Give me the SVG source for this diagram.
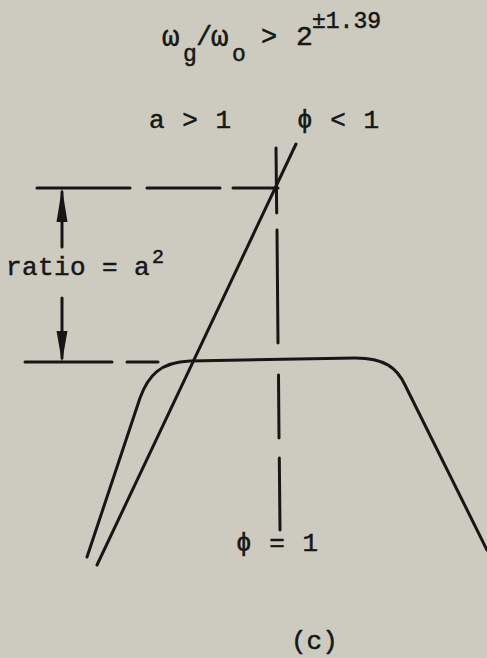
<svg xmlns="http://www.w3.org/2000/svg" width="487" height="658" viewBox="0 0 487 658">
<style>
.ink{stroke:#161616;stroke-width:3;fill:none;stroke-linecap:round;stroke-linejoin:round}
.t{font-family:"Liberation Mono","DejaVu Sans Mono",monospace;fill:#161616;stroke:#161616;stroke-width:0.5}
</style>
<rect width="487" height="658" fill="#cdcbbf"/>
<g id="title">
<text class="t" font-size="29" x="162" y="46">ω</text>
<text class="t" font-size="23" x="183" y="61">g</text>
<text class="t" font-size="27" x="196" y="45">/</text>
<text class="t" font-size="29" x="211" y="46">ω</text>
<text class="t" font-size="23" x="232" y="61">o</text>
<text class="t" font-size="27" x="261" y="45">&gt;</text>
<text class="t" font-size="28" x="296" y="45">2</text>
<text class="t" font-size="23" x="312" y="28">±1.39</text>
</g>
<g id="label-a">
<text class="t" font-size="26" letter-spacing="1" x="149" y="128">a &gt; 1</text>
</g>
<g id="label-phi-lt">
<text class="t" font-size="26" letter-spacing="1" x="297" y="128">ϕ &lt; 1</text>
</g>
<g id="label-ratio">
<text class="t" font-size="26" letter-spacing="0.4" x="6" y="275">ratio = a</text>
<text class="t" font-size="20" x="152" y="263">2</text>
</g>
<g id="label-phi-eq">
<text class="t" font-size="26" letter-spacing="1" x="236" y="551">ϕ = 1</text>
</g>
<g id="caption">
<text class="t" font-size="26" x="291" y="649">(c)</text>
</g>
<g id="connectors">
<path class="ink" d="M37 188H130M147 188H220M233 188H278"/>
<path class="ink" d="M25 362H112M127 362H158"/>
<path class="ink" d="M62 192V247M62 298V358"/>
<polygon points="62,188 56.5,222 67.5,222" fill="#161616"/>
<polygon points="62,362 56.5,331 67.5,331" fill="#161616"/>
<path class="ink" d="M276 148L276.7 213M277 230L278 343M278.5 375L279 438M279.3 458L280 530"/>
<path class="ink" d="M296 144L97 565"/>
<path class="ink" d="M87 557L140 398C148 376 160 362 190 361L355 358C385 358 397 368 405 385L487 550"/>
</g>
</svg>
